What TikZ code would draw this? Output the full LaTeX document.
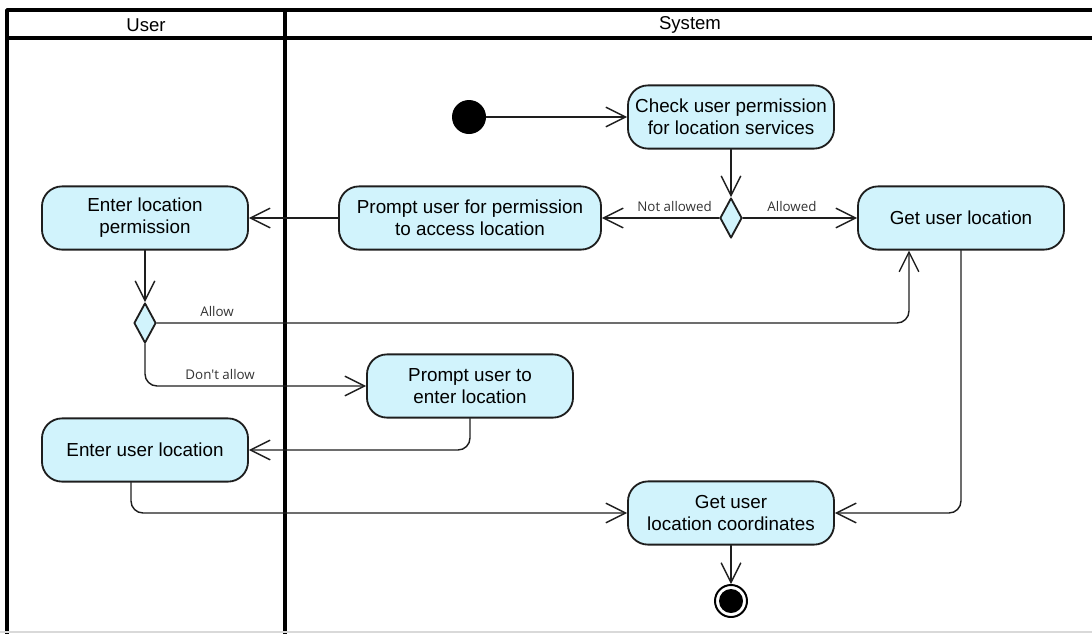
\documentclass[tikz,border=0pt]{standalone}
\usepackage{fontspec}
\setmainfont{Liberation Sans}
\newfontfamily\guardfont{Open Sans}
\usetikzlibrary{arrows.meta,shapes.geometric}
\definecolor{actfill}{RGB}{209,243,252}
\definecolor{actline}{RGB}{30,30,30}

\begin{document}
\begin{tikzpicture}[x=0.025cm, y=-0.025cm, line join=round, line cap=round, >={Straight Barb[length=14pt,width=14pt]},
	activity/.style={draw=actline, fill=actfill, line width=1.3pt, rounded corners=0.5cm, minimum width=5.15cm, minimum height=1.58cm, align=center, inner sep=0pt, font=\fontsize{13.4}{15.6}\selectfont},
	decision/.style={diamond, draw=actline, fill=actfill, line width=1.3pt, minimum width=0.55cm, minimum height=1cm, inner sep=0pt},
	flow/.style={->, line width=1pt, draw=actline, rounded corners=0.3cm},
	guard/.style={font=\guardfont\fontsize{9.5}{11}\selectfont, text=black!80, inner sep=1pt},
	lane/.style={line width=2.5pt, line cap=butt},
	head/.style={font=\fontsize{13.2}{15}\selectfont}]
			\useasboundingbox (0,0) rectangle (1092,633);
			\clip (0,0) rectangle (1092,633);
			
			% swimlanes
			\draw[lane] (1100,10) -- (7,10) -- (7,640);
			\draw[lane] (7,38) -- (1100,38);
			\draw[lane] (285,10) -- (285,640);
			\draw[black!15, line width=1pt] (0,632) -- (1092,632);
			\node[head] (userlane) at (146,25) {User};
			\node[head] (systemlane) at (690,25) {System};
			
			% activities
			\node[circle, fill=black, minimum size=0.85cm, inner sep=0pt] (start) at (469,117) {};
			\node[activity] (check) at (731,117) {Check user permission\\for location services};
			\node[decision] (dec1) at (731,218) {};
			\node[activity, minimum width=6.55cm] (askperm) at (470,218) {Prompt user for permission\\to access location};
			\node[activity] (getloc) at (961,218) {Get user location};
			\node[activity] (enterperm) at (145,218) {Enter location\\permission};
			\node[decision] (dec2) at (145,323) {};
			\node[activity] (askenter) at (470,386) {Prompt user to\\enter location};
			\node[activity] (enteruser) at (145,450) {Enter user location};
			\node[activity] (coords) at (731,513) {Get user\\location coordinates};
			\node[circle, draw=black, line width=1.4pt, minimum size=0.8cm, inner sep=0pt] (stop) at (731,601) {};
			\fill (stop) circle (0.3cm);
			
			% flows
			\draw[flow] (start) -- (check);
			\draw[flow] (check) -- (dec1);
			\draw[flow] (dec1) -- node[guard, above=3pt, pos=0.38] {Not allowed} (askperm);
			\draw[flow] (dec1) -- node[guard, above=3pt, pos=0.43] {Allowed} (getloc);
			\draw[flow] (askperm) -- (enterperm);
			\draw[flow] (enterperm) -- (dec2);
			\draw[flow] (dec2.east) -| node[guard, above=3pt, pos=0.04] {Allow} ([xshift=-1.3cm]getloc.south);
			\draw[flow] (dec2.south) |- node[guard, above=3pt, pos=0.67] {Don't allow} (askenter);
			\draw[flow] (askenter.south) |- (enteruser);
			\draw[flow] ([xshift=-0.35cm]enteruser.south) |- (coords);
			\draw[flow] (getloc.south) |- (coords);
			\draw[flow] (coords) -- (stop);
		\end{tikzpicture}
\end{document}
